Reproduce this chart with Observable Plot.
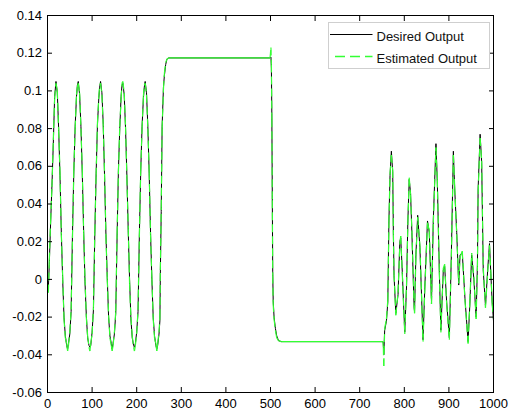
<!DOCTYPE html>
<html>
<head>
<meta charset="utf-8">
<script src="https://cdn.jsdelivr.net/npm/d3@7"></script>
<script src="https://cdn.jsdelivr.net/npm/@observablehq/plot@0.6"></script>
<style>
  html, body { margin: 0; padding: 0; background: white; }
  #wrap { position: relative; width: 513px; height: 412px; }
  #legend { position: absolute; left: 328px; top: 22px; }
</style>
</head>
<body>
<div id="wrap"></div>
<script>
// ---- data ----
const xTicks = [0, 100, 200, 300, 400, 500, 600, 700, 800, 900, 1000];
const yTicks = [-0.06, -0.04, -0.02, 0, 0.02, 0.04, 0.06, 0.08, 0.1, 0.12, 0.14];
const seriesNames = ["Desired Output", "Estimated Output"];

const t = [
  0, 2, 4, 7, 10, 13, 16, 19,
  22, 25, 28, 31, 34, 37, 40, 43, 45, 47, 50, 53, 56, 59, 62, 65, 67, 69,
  72, 75, 78, 81, 84, 87, 90, 93, 95, 97, 100, 103, 106, 109, 112, 115, 117, 119,
  122, 125, 128, 131, 134, 137, 140, 143, 145, 147, 150, 153, 156, 159, 162, 165, 167, 169,
  172, 175, 178, 181, 184, 187, 190, 193, 195, 197, 200, 203, 206, 209, 212, 215, 217, 219,
  222, 225, 228, 231, 234, 237, 240, 243, 245, 247, 250, 252, 253, 255, 257, 260, 262, 265, 268, 272,
  499, 501, 502, 503, 504, 505, 506, 508, 511, 514, 518, 524, 752,
  753, 754, 756, 760, 763, 765.5, 768, 771, 774, 775.5, 777, 781, 786, 790, 792, 795.5, 801, 805, 808, 811,
  814, 817, 822, 823, 826, 830, 835, 842, 846, 852, 856, 861, 865, 871, 874, 878.5, 882, 887.5, 890.5, 895,
  901, 905.5, 910, 913, 917.5, 922, 925, 930, 936, 943, 947, 951, 956, 961, 964, 965.5, 970, 973.5, 977, 982,
  987, 991, 994, 997, 1000
];

const desired = [
  -0.006, -0.004, 0.008, 0.030, 0.050, 0.072, 0.097, 0.105,
  0.099, 0.080, 0.055, 0.025, 0.000, -0.020, -0.030, -0.035, -0.037, -0.034, -0.029, -0.017, 0.024, 0.057, 0.081, 0.097, 0.103, 0.105,
  0.098, 0.081, 0.056, 0.026, -0.001, -0.019, -0.031, -0.035, -0.036, -0.035, -0.028, -0.016, 0.023, 0.056, 0.082, 0.096, 0.102, 0.105,
  0.099, 0.082, 0.054, 0.024, 0.001, -0.020, -0.030, -0.034, -0.037, -0.034, -0.029, -0.018, 0.022, 0.058, 0.080, 0.097, 0.103, 0.104,
  0.098, 0.080, 0.055, 0.026, 0.000, -0.021, -0.031, -0.035, -0.036, -0.034, -0.028, -0.017, 0.024, 0.057, 0.081, 0.096, 0.102, 0.105,
  0.099, 0.081, 0.056, 0.025, 0.000, -0.020, -0.030, -0.035, -0.037, -0.035, -0.029, -0.022, 0.003, 0.036, 0.081, 0.102, 0.108, 0.114, 0.117, 0.1175,
  0.1175, 0.118, 0.112, 0.088, 0.045, 0.004, -0.011, -0.020, -0.026, -0.030, -0.0325, -0.033, -0.033,
  -0.034, -0.040, -0.027, -0.022, -0.012, 0.031, 0.055, 0.068, 0.057, 0.025, 0.002, -0.018, -0.008, 0.020, 0.022, 0.004, -0.028, -0.004, 0.031, 0.053,
  0.046, 0.025, -0.015, -0.017, 0.013, 0.034, 0.017, -0.032, -0.004, 0.031, 0.025, -0.012, 0.031, 0.072, 0.052, 0.005, -0.027, 0.005, 0.007, -0.012,
  -0.031, 0.013, 0.068, 0.048, 0.025, -0.003, 0.013, 0.014, -0.010, -0.033, -0.013, 0.013, 0.000, -0.020, 0.008, 0.048, 0.077, 0.062, 0.005, -0.014,
  0.005, 0.019, 0.003, -0.012, -0.022
];

const estimated = [
  -0.004, -0.007, 0.010, 0.031, 0.049, 0.074, 0.096, 0.104,
  0.100, 0.079, 0.057, 0.024, 0.002, -0.021, -0.031, -0.034, -0.038, -0.035, -0.028, -0.016, 0.022, 0.058, 0.080, 0.098, 0.102, 0.104,
  0.099, 0.080, 0.058, 0.025, 0.001, -0.020, -0.030, -0.036, -0.038, -0.034, -0.029, -0.015, 0.025, 0.055, 0.083, 0.097, 0.103, 0.104,
  0.098, 0.081, 0.056, 0.023, 0.000, -0.019, -0.031, -0.035, -0.038, -0.035, -0.028, -0.017, 0.024, 0.057, 0.081, 0.096, 0.104, 0.105,
  0.099, 0.081, 0.054, 0.027, -0.002, -0.020, -0.030, -0.036, -0.038, -0.035, -0.029, -0.016, 0.023, 0.058, 0.080, 0.097, 0.103, 0.104,
  0.098, 0.080, 0.057, 0.024, 0.001, -0.021, -0.031, -0.034, -0.038, -0.034, -0.028, -0.020, 0.005, 0.038, 0.080, 0.101, 0.109, 0.115, 0.117, 0.1175,
  0.1175, 0.123, 0.114, 0.085, 0.042, 0.002, -0.013, -0.021, -0.027, -0.031, -0.0325, -0.033, -0.033,
  -0.036, -0.046, -0.026, -0.021, -0.011, 0.030, 0.056, 0.066, 0.058, 0.024, 0.003, -0.019, -0.007, 0.019, 0.023, 0.003, -0.029, -0.003, 0.030, 0.054,
  0.045, 0.026, -0.014, -0.018, 0.012, 0.033, 0.018, -0.033, -0.005, 0.030, 0.026, -0.013, 0.030, 0.070, 0.053, 0.004, -0.028, 0.006, 0.008, -0.013,
  -0.032, 0.012, 0.066, 0.049, 0.024, -0.002, 0.012, 0.015, -0.011, -0.034, -0.012, 0.014, 0.001, -0.021, 0.007, 0.046, 0.075, 0.063, 0.006, -0.015,
  0.004, 0.018, 0.004, -0.013, -0.021
];

const GREEN = "#33ff33";

// ---- build tables for the library ----
const rows = t.map((x, i) => ({t: x, d: desired[i], e: estimated[i]}));
const segs = rows.slice(1).map((r, i) => ({x1: rows[i].t, y1: rows[i].e, x2: r.t, y2: r.e}));
const flatSegs = segs.filter(s => Math.abs(s.y2 - s.y1) < 0.0008);
const steepSegs = segs.filter(s => !(Math.abs(s.y2 - s.y1) < 0.0008));

const chart = Plot.plot({
  width: 513,
  height: 412,
  marginLeft: 47,
  marginRight: 20,
  marginTop: 15,
  marginBottom: 20,
  style: {fontFamily: "'Liberation Sans', Arial, sans-serif", fontSize: "13px", background: "white", color: "black"},
  x: {domain: [0, 1000]},
  y: {domain: [-0.06, 0.14]},
  marks: [
    Plot.line(rows, {x: "t", y: "d", stroke: "black", strokeWidth: 1}),
    Plot.link(steepSegs, {x1: "x1", y1: "y1", x2: "x2", y2: "y2", stroke: GREEN, strokeWidth: 1.2, strokeDasharray: "8,4"}),
    Plot.link(flatSegs, {x1: "x1", y1: "y1", x2: "x2", y2: "y2", stroke: GREEN, strokeWidth: 1.2}),
    Plot.frame({stroke: "black"}),
    Plot.axisX({anchor: "bottom", ticks: xTicks, tickSize: -5, tickPadding: 11, tickFormat: d => String(d), label: null}),
    Plot.axisX({anchor: "top", ticks: xTicks, tickSize: -5, tickFormat: () => "", label: null}),
    Plot.axisY({anchor: "left", ticks: yTicks, tickSize: -5, tickPadding: 10.5, tickFormat: d => String(d), label: null}),
    Plot.axisY({anchor: "right", ticks: yTicks, tickSize: -5, tickFormat: () => "", label: null})
  ]
});

const wrap = document.getElementById("wrap");
wrap.appendChild(chart);

// ---- legend (inside the axes, top right) ----
const ns = "http://www.w3.org/2000/svg";
const lg = document.createElementNS(ns, "svg");
lg.setAttribute("id", "legend");
lg.setAttribute("width", "162");
lg.setAttribute("height", "48");
lg.innerHTML = `
  <rect x="0.5" y="0.5" width="161" height="46" fill="white" stroke="#cfcfcf"/>
  <line x1="2" x2="44.5" y1="12.5" y2="12.5" stroke="black" stroke-width="1"/>
  <text x="48.5" y="18.5" font-family="'Liberation Sans', Arial, sans-serif" font-size="13" fill="#111">${seriesNames[0]}</text>
  <line x1="2" x2="44.5" y1="34.5" y2="34.5" stroke="${GREEN}" stroke-width="1.3" stroke-dasharray="10,5" stroke-dashoffset="10"/>
  <text x="48.5" y="40.5" font-family="'Liberation Sans', Arial, sans-serif" font-size="13" fill="#111">${seriesNames[1]}</text>
`;
wrap.appendChild(lg);
</script>
</body>
</html>
